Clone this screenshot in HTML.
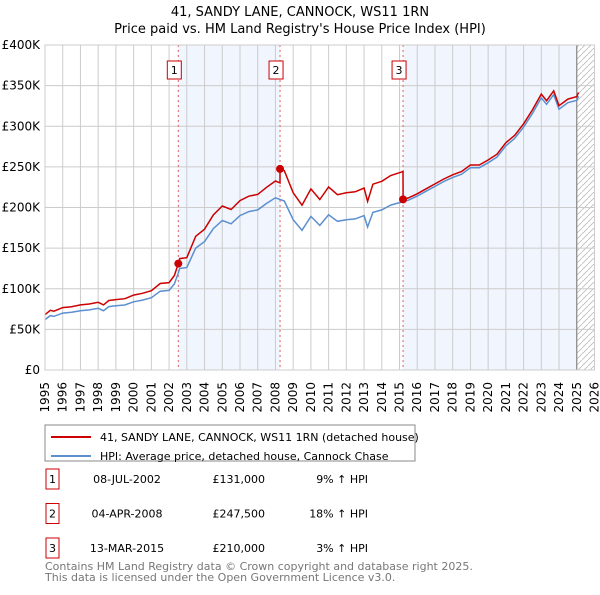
<!DOCTYPE html>
<html><head><meta charset="utf-8"><style>
body{margin:0;background:#fff;font-family:"Liberation Sans","DejaVu Sans",sans-serif;}
svg text{font-family:"DejaVu Sans","Liberation Sans",sans-serif;}
</style></head><body>
<svg id="c" width="600" height="590" viewBox="0 0 600 590" xmlns="http://www.w3.org/2000/svg">
<text x="300" y="16" text-anchor="middle" font-size="13">41, SANDY LANE, CANNOCK, WS11 1RN</text>
<text x="300" y="33" text-anchor="middle" font-size="13">Price paid vs. HM Land Registry's House Price Index (HPI)</text>
<g id="plot"></g>
<rect x="45" y="425" width="370" height="36" fill="#fff" stroke="#888"/>
<line x1="51" y1="437" x2="91" y2="437" stroke="#cc0000" stroke-width="2"/>
<text x="100" y="441" font-size="11">41, SANDY LANE, CANNOCK, WS11 1RN (detached house)</text>
<line x1="51" y1="456" x2="91" y2="456" stroke="#5b8fd0" stroke-width="2"/>
<text x="100" y="460" font-size="11">HPI: Average price, detached house, Cannock Chase</text>
<g id="tbl" font-size="11"></g>
<text x="45" y="570" font-size="11" fill="#777">Contains HM Land Registry data © Crown copyright and database right 2025.</text>
<text x="45" y="581" font-size="11" fill="#777">This data is licensed under the Open Government Licence v3.0.</text>
</svg>
<script>
const hpiDates=[1995,1995.3,1995.5,1996,1996.5,1997,1997.5,1998,1998.3,1998.6,1999,1999.5,2000,2000.5,2001,2001.5,2002,2002.3,2002.5,2002.6,2003,2003.5,2004,2004.5,2005,2005.5,2006,2006.5,2007,2007.5,2008,2008.5,2009,2009.5,2010,2010.5,2011,2011.5,2012,2012.5,2013,2013.2,2013.5,2014,2014.5,2015,2015.5,2016,2016.5,2017,2017.5,2018,2018.5,2019,2019.5,2020,2020.5,2021,2021.5,2022,2022.5,2023,2023.3,2023.7,2024,2024.5,2025,2025.1];
const hpiValues=[62,67,66,70,71,73,74,76,73,78,79,80,84,86,89,97,98,106,118,125,126,150,158,174,184,180,190,195,197,205,212,208,185,172,189,178,191,183,185,186,190,176,194,197,203,206,209,214,220,226,232,237,241,249,249,255,262,276,285,299,316,335,327,339,321,329,332,337];
const saleLabels=["1","2","3"];
const saleDates=[2002.52,2008.26,2015.2];
const salePrices=[131000,247500,210000];
const saleDateText=["08-JUL-2002","04-APR-2008","13-MAR-2015"];
const salePriceText=["£131,000","£247,500","£210,000"];
const saleHpiText=["9% ↑ HPI","18% ↑ HPI","3% ↑ HPI"];
const yTicks=[0,50000,100000,150000,200000,250000,300000,350000,400000];
const yTickLabels=["£0","£50K","£100K","£150K","£200K","£250K","£300K","£350K","£400K"];
const xYears=[1995,1996,1997,1998,1999,2000,2001,2002,2003,2004,2005,2006,2007,2008,2009,2010,2011,2012,2013,2014,2015,2016,2017,2018,2019,2020,2021,2022,2023,2024,2025,2026];

const NS="http://www.w3.org/2000/svg";
const X0=45,X1=594.5,Y0=370,Y1=45;
const xs=t=>X0+(t-1995)/(2026-1995)*(X1-X0);
const ys=v=>Y0-v/400000*(Y0-Y1);
const g=document.getElementById('plot');
function mk(tag,attrs,parent){const e=document.createElementNS(NS,tag);for(const k in attrs)e.setAttribute(k,attrs[k]);(parent||g).appendChild(e);return e;}
function hpiAt(t){for(let i=1;i<hpiDates.length;i++){if(t<=hpiDates[i]){const a=hpiDates[i-1],b=hpiDates[i];return (hpiValues[i-1]+(hpiValues[i]-hpiValues[i-1])*(t-a)/(b-a))*1000;}}return hpiValues[hpiValues.length-1]*1000;}

let e;
e=mk('rect',{x:X0,y:Y1,width:X1-X0,height:Y0-Y1,fill:'#fff'});


e=mk('rect',{x:xs(saleDates[0]),y:Y1,width:xs(saleDates[1])-xs(saleDates[0]),height:Y0-Y1,fill:'#eef3fc',opacity:0.8});


e=mk('rect',{x:xs(saleDates[2]),y:Y1,width:xs(2025.0)-xs(saleDates[2]),height:Y0-Y1,fill:'#eef3fc',opacity:0.8});


const defs=mk('defs',{});
const pat=mk('pattern',{id:'hatch',width:6,height:6,patternUnits:'userSpaceOnUse'},defs);
mk('path',{d:'M0,6 L6,0',stroke:'#bbb','stroke-width':0.8},pat);
e=mk('rect',{x:xs(2025.0),y:Y1,width:X1-xs(2025.0),height:Y0-Y1,fill:'url(#hatch)'});


xYears.forEach(y=>{e=mk('line',{x1:xs(y),x2:xs(y),y1:Y1,y2:Y0,stroke:'#ccc','stroke-width':1});


const lx=xs(y)+4,ly=Y0+12;
e=mk('text',{x:lx,y:ly,'text-anchor':'end','font-size':12,transform:'rotate(-90 '+lx+' '+ly+')'});e.textContent=y;

});
yTicks.forEach((v,i)=>{e=mk('line',{x1:X0,x2:X1,y1:ys(v),y2:ys(v),stroke:'#ccc','stroke-width':1});


e=mk('text',{x:X0-5,y:ys(v)+4,'text-anchor':'end','font-size':12});e.textContent=yTickLabels[i];

});
e=mk('line',{x1:xs(2025.0),x2:xs(2025.0),y1:Y1,y2:Y0,stroke:'#777','stroke-width':1});


saleDates.forEach((d,i)=>{e=mk('line',{x1:xs(d),x2:xs(d),y1:Y1,y2:Y0,stroke:'#e06060','stroke-width':1,'stroke-dasharray':'2,3'});


const bx=xs(d)-8;
e=mk('rect',{x:bx-3,y:61,width:14,height:18,fill:'#fff',stroke:'#cc0000'});


e=mk('text',{x:bx+4,y:74,'text-anchor':'middle','font-size':11});e.textContent=saleLabels[i];

});
let p='';hpiDates.forEach((d,i)=>{p+=(i?'L':'M')+xs(d).toFixed(1)+','+ys(hpiValues[i]*1000).toFixed(1);});
e=mk('path',{d:p,fill:'none',stroke:'#5b8fd0','stroke-width':1.5});


function factorAt(t){let k=0;for(let i=0;i<saleDates.length;i++){if(t>=saleDates[i])k=i;}return salePrices[k]/hpiAt(saleDates[k]);}
let pts=[];hpiDates.forEach(d=>pts.push([d,hpiAt(d)*factorAt(d)]));
saleDates.forEach((d,i)=>{if(i>0)pts.push([d-0.001,hpiAt(d)*factorAt(d-0.01)]);pts.push([d,salePrices[i]]);});
pts.sort((a,b)=>a[0]-b[0]);
p='';pts.forEach((q,i)=>{p+=(i?'L':'M')+xs(q[0]).toFixed(1)+','+ys(q[1]).toFixed(1);});
e=mk('path',{d:p,fill:'none',stroke:'#cc0000','stroke-width':1.5});


saleDates.forEach((d,i)=>{e=mk('circle',{cx:xs(d),cy:ys(salePrices[i]),r:4,fill:'#cc0000'});

});
e=mk('rect',{x:X0,y:Y1,width:X1-X0,height:Y0-Y1,fill:'none',stroke:'#ccc'});


const t=document.getElementById('tbl');
saleLabels.forEach((l,i)=>{const y=483+i*34.5;
e=mk('rect',{x:46,y:y-14,width:13,height:20,fill:'#fff',stroke:'#cc0000'},t);


e=mk('text',{x:52.5,y:y,'text-anchor':'middle'},t);e.textContent=l;


e=mk('text',{x:127,y:y,'text-anchor':'middle'},t);e.textContent=saleDateText[i];


e=mk('text',{x:265,y:y,'text-anchor':'end'},t);e.textContent=salePriceText[i];


e=mk('text',{x:368,y:y,'text-anchor':'end'},t);e.textContent=saleHpiText[i];

});
</script>
</body></html>
